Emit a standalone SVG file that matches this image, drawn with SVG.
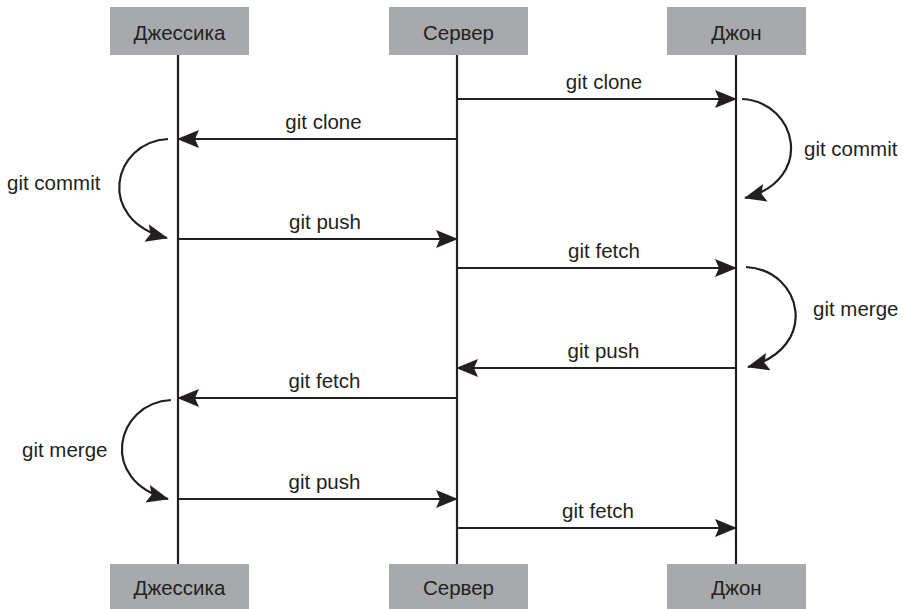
<svg xmlns="http://www.w3.org/2000/svg" width="903" height="609" viewBox="0 0 903 609">
<style>
.box{fill:#a7a9ac}
.t{font-family:"Liberation Sans",Arial,sans-serif;font-size:20.5px;fill:#231f20}
.m{text-anchor:middle}
.ln{stroke:#231f20;stroke-width:2.2;fill:none}
</style>
<defs>
<marker id="ah" markerUnits="userSpaceOnUse" viewBox="0 0 22 18" markerWidth="22" markerHeight="18" refX="21" refY="9" orient="auto">
<path d="M0,0 L22,9 L0,18 L4,9 z" fill="#231f20"/>
</marker>
</defs>
<rect width="903" height="609" fill="#fff"/>
<g id="lifelines">
<line class="ln" x1="178" y1="55" x2="178" y2="564"/>
<line class="ln" x1="457" y1="55" x2="457" y2="564"/>
<line class="ln" x1="736" y1="55" x2="736" y2="564"/>
</g>
<g id="jessica-top"><rect class="box" x="110" y="7" width="139" height="48"/><text class="t m" x="179.5" y="40">Джессика</text></g>
<g id="server-top"><rect class="box" x="389" y="7" width="139" height="48"/><text class="t m" x="458.5" y="40">Сервер</text></g>
<g id="john-top"><rect class="box" x="667" y="7" width="139" height="48"/><text class="t m" x="736.5" y="40">Джон</text></g>
<g id="jessica-bottom"><rect class="box" x="110" y="564" width="139" height="45"/><text class="t m" x="179.5" y="595">Джессика</text></g>
<g id="server-bottom"><rect class="box" x="389" y="564" width="139" height="45"/><text class="t m" x="458.5" y="595">Сервер</text></g>
<g id="john-bottom"><rect class="box" x="667" y="564" width="139" height="45"/><text class="t m" x="736.5" y="595">Джон</text></g>
<g id="connectors">
<line class="ln" x1="457" y1="99" x2="736" y2="99" marker-end="url(#ah)"/>
<line class="ln" x1="457" y1="139" x2="178" y2="139" marker-end="url(#ah)"/>
<line class="ln" x1="178" y1="239" x2="457" y2="239" marker-end="url(#ah)"/>
<line class="ln" x1="457" y1="268" x2="736" y2="268" marker-end="url(#ah)"/>
<line class="ln" x1="736" y1="368" x2="457" y2="368" marker-end="url(#ah)"/>
<line class="ln" x1="457" y1="398" x2="178" y2="398" marker-end="url(#ah)"/>
<line class="ln" x1="178" y1="499" x2="457" y2="499" marker-end="url(#ah)"/>
<line class="ln" x1="457" y1="528" x2="736" y2="528" marker-end="url(#ah)"/>
<path class="ln" d="M742,99 C798,102 815,180 745,198" marker-end="url(#ah)"/>
<path class="ln" d="M746,267 C803,270 820,348 748,367" marker-end="url(#ah)"/>
<path class="ln" d="M168,139 C112,142 95,220 167,238" marker-end="url(#ah)"/>
<path class="ln" d="M171,400 C115,403 98,481 168,499" marker-end="url(#ah)"/>
</g>
<g id="labels">
<text class="t m" x="604" y="89">git clone</text>
<text class="t m" x="323.5" y="129">git clone</text>
<text class="t m" x="325" y="229">git push</text>
<text class="t m" x="604" y="258">git fetch</text>
<text class="t m" x="603.5" y="358">git push</text>
<text class="t m" x="324.5" y="388">git fetch</text>
<text class="t m" x="324.5" y="489">git push</text>
<text class="t m" x="598" y="518">git fetch</text>
<text class="t" x="804" y="156">git commit</text>
<text class="t" x="813" y="316">git merge</text>
<text class="t" x="7" y="190">git commit</text>
<text class="t" x="22" y="457">git merge</text>
</g>
</svg>
